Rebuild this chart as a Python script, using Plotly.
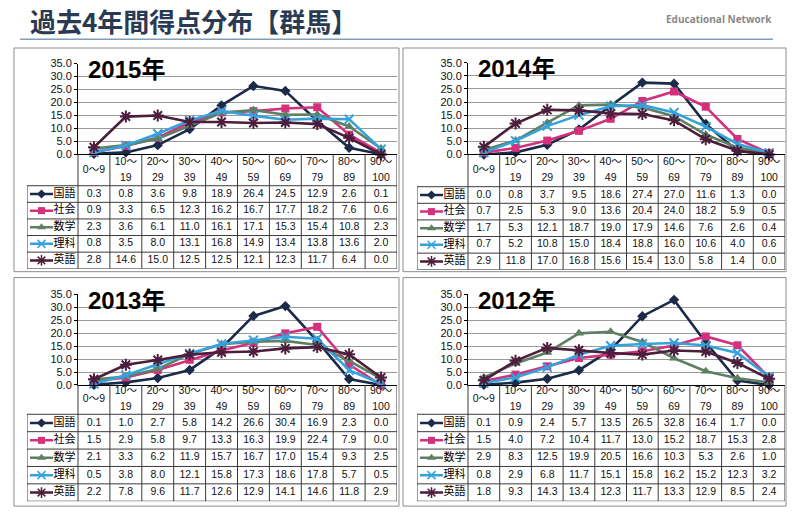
import plotly.graph_objects as go

# ---------------- data ----------------
categories = ["0～9", "10～19", "20～29", "30～39", "40～49",
              "50～59", "60～69", "70～79", "80～89", "90～100"]
header_labels = ["0～9", "10～<br>19", "20～<br>29", "30～<br>39", "40～<br>49",
                 "50～<br>59", "60～<br>69", "70～<br>79", "80～<br>89", "90～<br>100"]
subjects = ["国語", "社会", "数学", "理科", "英語"]

scores_2015 = [
    [0.3, 0.8, 3.6, 9.8, 18.9, 26.4, 24.5, 12.9, 2.6, 0.1],
    [0.9, 3.3, 6.5, 12.3, 16.2, 16.7, 17.7, 18.2, 7.6, 0.6],
    [2.3, 3.6, 6.1, 11.0, 16.1, 17.1, 15.3, 15.4, 10.8, 2.3],
    [0.8, 3.5, 8.0, 13.1, 16.8, 14.9, 13.4, 13.8, 13.6, 2.0],
    [2.8, 14.6, 15.0, 12.5, 12.5, 12.1, 12.3, 11.7, 6.4, 0.0],
]
scores_2014 = [
    [0.0, 0.8, 3.7, 9.5, 18.6, 27.4, 27.0, 11.6, 1.3, 0.0],
    [0.7, 2.5, 5.3, 9.0, 13.6, 20.4, 24.0, 18.2, 5.9, 0.5],
    [1.7, 5.3, 12.1, 18.7, 19.0, 17.9, 14.6, 7.6, 2.6, 0.4],
    [0.7, 5.2, 10.8, 15.0, 18.4, 18.8, 16.0, 10.6, 4.0, 0.6],
    [2.9, 11.8, 17.0, 16.8, 15.6, 15.4, 13.0, 5.8, 1.4, 0.0],
]
scores_2013 = [
    [0.1, 1.0, 2.7, 5.8, 14.2, 26.6, 30.4, 16.9, 2.3, 0.0],
    [1.5, 2.9, 5.8, 9.7, 13.3, 16.3, 19.9, 22.4, 7.9, 0.0],
    [2.1, 3.3, 6.2, 11.9, 15.7, 16.7, 17.0, 15.4, 9.3, 2.5],
    [0.5, 3.8, 8.0, 12.1, 15.8, 17.3, 18.6, 17.8, 5.7, 0.5],
    [2.2, 7.8, 9.6, 11.7, 12.6, 12.9, 14.1, 14.6, 11.8, 2.9],
]
scores_2012 = [
    [0.1, 0.9, 2.4, 5.7, 13.5, 26.5, 32.8, 16.4, 1.7, 0.0],
    [1.5, 4.0, 7.2, 10.4, 11.7, 13.0, 15.2, 18.7, 15.3, 2.8],
    [2.9, 8.3, 12.5, 19.9, 20.5, 16.6, 10.3, 5.3, 2.6, 1.0],
    [0.8, 2.9, 6.8, 11.7, 15.1, 15.8, 16.2, 15.2, 12.3, 3.2],
    [1.8, 9.3, 14.3, 13.4, 12.3, 11.7, 13.3, 12.9, 8.5, 2.4],
]

# ---------------- styles ----------------
colors = ["#1c2a4a", "#d4307c", "#5f7f63", "#35a2dc", "#4d1d3c"]
symbols = ["diamond", "square", "triangle-up", "x-thin-open", "asterisk-open"]
msizes = [8, 8, 9, 9, 10]

W, H = 792, 517
def fx(v): return v / W
def fy(v): return 1 - v / H

panels = [
    dict(year="2015年", data=scores_2015, box=(14, 43, 399, 272), axis_x=78, plot_right=397,
         y35=59, y0=152, leg_left=27, head_bottom=184, rows_bottom=269),
    dict(year="2014年", data=scores_2014, box=(403, 43, 786, 272), axis_x=468, plot_right=785,
         y35=58, y0=152, leg_left=417, head_bottom=185, rows_bottom=270),
    dict(year="2013年", data=scores_2013, box=(14, 278, 399, 512), axis_x=78, plot_right=397,
         y35=295, y0=388, leg_left=27, head_bottom=418, rows_bottom=507),
    dict(year="2012年", data=scores_2012, box=(403, 278, 786, 512), axis_x=468, plot_right=785,
         y35=295, y0=388, leg_left=417, head_bottom=418, rows_bottom=507),
]

fig = go.Figure()
layout_axes = {}
shapes = []
annotations = []
BASE = "Liberation Sans, Arial, Noto Sans CJK JP, sans-serif"
JP = "Noto Sans CJK JP, sans-serif"
GRIDC = "#3a3a3a"

for k, p in enumerate(panels):
    n = k + 1
    xa, ya = ("x" if n == 1 else f"x{n}"), ("y" if n == 1 else f"y{n}")
    # main chart
    for i, name in enumerate(subjects):
        fig.add_trace(go.Scatter(
            x=categories, y=p["data"][i], name=name, mode="lines+markers",
            line=dict(color=colors[i], width=2.6),
            marker=dict(symbol=symbols[i], size=msizes[i], color=colors[i],
                        line=dict(color=colors[i], width=2 if i >= 3 else 0)),
            xaxis=xa, yaxis=ya, showlegend=False, hoverinfo="skip", cliponaxis=False))
    kx = "xaxis" if n == 1 else f"xaxis{n}"
    ky = "yaxis" if n == 1 else f"yaxis{n}"
    layout_axes[kx] = dict(domain=[fx(p["axis_x"]), fx(p["plot_right"])], anchor=ya,
                           type="category", categoryarray=categories, range=[-0.5, 9.5],
                           showticklabels=False, ticks="", showgrid=False,
                           showline=True, linecolor="#000", linewidth=1, zeroline=False)
    layout_axes[ky] = dict(domain=[fy(p["y0"]), fy(p["y35"])], anchor=xa,
                           range=[0, 35], dtick=5, tickformat=".1f",
                           showgrid=True, gridcolor="#9a9a9a", gridwidth=1,
                           showline=True, linecolor="#000", linewidth=1,
                           ticks="outside", ticklen=3, tickcolor="#000",
                           tickfont=dict(family=BASE, size=11, color="#111"),
                           zeroline=False)

    # ---- data table drawn on a hidden pixel-unit axis ----
    m = n + 4
    sxa, sya = f"x{m}", f"y{m}"
    lw = p["axis_x"] - p["leg_left"]
    tw = p["plot_right"] - p["leg_left"]
    th = p["rows_bottom"] - p["y0"]
    head_h = p["head_bottom"] - p["y0"]
    row_h = (p["rows_bottom"] - p["head_bottom"]) / 5
    cw = (p["plot_right"] - p["axis_x"]) / 10
    layout_axes[f"xaxis{m}"] = dict(domain=[fx(p["leg_left"]), fx(p["plot_right"])], anchor=sya,
                                    range=[0, tw], visible=False, fixedrange=True)
    layout_axes[f"yaxis{m}"] = dict(domain=[fy(p["rows_bottom"]), fy(p["y0"])], anchor=sxa,
                                    range=[th, 0], visible=False, fixedrange=True)
    col_x = [lw + (j + 0.5) * cw for j in range(10)]
    row_y = [head_h + (i + 0.5) * row_h for i in range(5)]

    # header labels (one or two lines)
    hx, hy, ht = [], [], []
    for j, lab in enumerate(header_labels):
        parts = lab.split("<br>")
        if len(parts) == 1:
            hx.append(col_x[j]); hy.append(head_h / 2); ht.append(parts[0])
        else:
            hx += [col_x[j], col_x[j]]
            hy += [head_h / 2 - 8, head_h / 2 + 8]
            ht += parts
    fig.add_trace(go.Scatter(x=hx, y=hy, text=ht, mode="text", textposition="middle center",
                             textfont=dict(family=BASE, size=10.5, color="#111"),
                             xaxis=sxa, yaxis=sya, showlegend=False, hoverinfo="skip",
                             cliponaxis=False))
    # values
    vx, vy, vt = [], [], []
    for i in range(5):
        for j in range(10):
            vx.append(col_x[j]); vy.append(row_y[i]); vt.append(f"{p['data'][i][j]:.1f}")
    fig.add_trace(go.Scatter(x=vx, y=vy, text=vt, mode="text", textposition="middle center",
                             textfont=dict(family=BASE, size=10.5, color="#111"),
                             xaxis=sxa, yaxis=sya, showlegend=False, hoverinfo="skip",
                             cliponaxis=False))
    # legend swatches + names
    for i, name in enumerate(subjects):
        fig.add_trace(go.Scatter(x=[3, 26], y=[row_y[i]] * 2, mode="lines",
                                 line=dict(color=colors[i], width=2.5),
                                 xaxis=sxa, yaxis=sya, showlegend=False, hoverinfo="skip"))
        fig.add_trace(go.Scatter(x=[14.5], y=[row_y[i]], mode="markers",
                                 marker=dict(symbol=symbols[i], size=msizes[i] - 1, color=colors[i],
                                             line=dict(color=colors[i], width=1.5 if i >= 3 else 0)),
                                 xaxis=sxa, yaxis=sya, showlegend=False, hoverinfo="skip",
                                 cliponaxis=False))
    fig.add_trace(go.Scatter(x=[26.5] * 5, y=row_y, mode="text", text=subjects,
                             textposition="middle right",
                             textfont=dict(family=JP, size=11, color="#000"),
                             xaxis=sxa, yaxis=sya, showlegend=False, hoverinfo="skip",
                             cliponaxis=False))
    # table grid
    for j in range(11):
        shapes.append(dict(type="line", xref=sxa, yref=sya, x0=lw + j * cw, x1=lw + j * cw,
                           y0=0, y1=th, line=dict(color=GRIDC, width=1)))
    shapes.append(dict(type="line", xref=sxa, yref=sya, x0=0, x1=0, y0=head_h, y1=th,
                       line=dict(color=GRIDC, width=1)))
    for r in range(6):
        yy = head_h + r * row_h
        shapes.append(dict(type="line", xref=sxa, yref=sya, x0=0, x1=tw, y0=yy, y1=yy,
                           line=dict(color=GRIDC, width=1)))

    # panel box & year label
    x0, y0b, x1, y1b = p["box"]
    shapes.append(dict(type="rect", xref="paper", yref="paper",
                       x0=fx(x0), x1=fx(x1), y0=fy(y1b), y1=fy(y0b),
                       line=dict(color="#8c8c8c", width=1), layer="below"))
    annotations.append(dict(text=f"<b>{p['year']}</b>", xref="paper", yref="paper",
                            x=fx(p["axis_x"] + 8), y=fy(p["y35"] + 6), xanchor="left", yanchor="middle",
                            showarrow=False, font=dict(family=BASE, size=24, color="#000")))

# page title / header
annotations.append(dict(text="過去4年間得点分布【群馬】", xref="paper", yref="paper",
                        x=fx(28), y=fy(15), xanchor="left", yanchor="middle", showarrow=False,
                        font=dict(family=JP, size=26, color="#2a3a52", weight="bold")))
annotations.append(dict(text="<b>Educational Network</b>", xref="paper", yref="paper",
                        x=fx(774), y=fy(13), xanchor="right", yanchor="middle", showarrow=False,
                        font=dict(family="Open Sans, sans-serif", size=10, color="#8a8a8a")))
shapes.append(dict(type="line", xref="paper", yref="paper", x0=fx(20), x1=fx(773),
                   y0=fy(34), y1=fy(34), line=dict(color="#7f9db6", width=1.5)))

fig.update_layout(width=W, height=H, margin=dict(l=0, r=0, t=0, b=0),
                  paper_bgcolor="white", plot_bgcolor="rgba(0,0,0,0)",
                  shapes=shapes, annotations=annotations, showlegend=False,
                  **layout_axes)

fig.write_html("out.html", config={"displayModeBar": False},
               post_script="document.body.style.margin='0';document.body.style.padding='0';")
